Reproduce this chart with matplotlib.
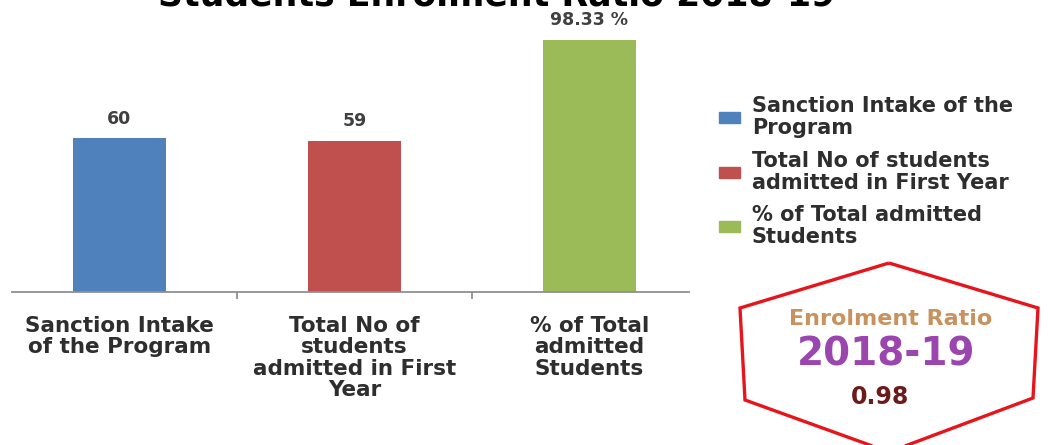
import numpy as np
import matplotlib.pyplot as plt
from matplotlib.patches import Patch, Polygon

# データ
categories = ["Sanction Intake\nof the Program",
              "Total No of\nstudents\nadmitted in First\nYear",
              "% of Total\nadmitted\nStudents"]
legend_labels = ["Sanction Intake of the\nProgram",
                 "Total No of students\nadmitted in First Year",
                 "% of Total admitted\nStudents"]
values = [60, 59, 98.33]
value_labels = ["60", "59", "98.33 %"]
colors = ["#4F81BD", "#C0504D", "#9BBB59"]
ratio_year = "2018-19"
ratio_value = "0.98"

W, H = 1054, 445
fig = plt.figure(figsize=(W / 100, H / 100), dpi=100)
ax = fig.add_axes([2 / W, (H - 292) / H, 705 / W, 292 / H])

x = np.arange(len(values))
bars = ax.bar(x, values, width=0.396, color=colors)
for b, lab in zip(bars, value_labels):
    ax.text(b.get_x() + b.get_width() / 2, b.get_height() + 4, lab,
            ha="center", va="bottom", fontsize=12.5, color="#404040",
            fontweight="bold")

ax.set_xlim(-0.5, 2.5)
ax.set_ylim(0, 113.8)
for s in ["top", "right", "left"]:
    ax.spines[s].set_visible(False)
ax.spines["bottom"].set_color("#909090")
ax.spines["bottom"].set_linewidth(1.3)
ax.spines["bottom"].set_bounds(-0.457, 2.423)
ax.set_yticks([])
ax.set_xticks(x)
ax.set_xticklabels(categories, fontsize=15.5, color="#2E2E2E",
                   linespacing=1.1, fontweight="bold")
ax.tick_params(axis="x", which="major", length=0, pad=17)
ax.set_xticks([0.5, 1.5], minor=True)
ax.tick_params(axis="x", which="minor", length=5, color="#909090", width=1.3)

# 凡例
handles = [Patch(color=c) for c in colors]
leg = fig.legend(handles, legend_labels, loc="upper left",
                 bbox_to_anchor=(709 / W, 1 - 86 / H), frameon=False,
                 prop={"size": 15, "weight": "bold"},
                 handlelength=1.0, handleheight=0.45,
                 handletextpad=0.55, labelspacing=0.62, borderpad=0,
                 labelcolor="#2E2E2E")
for t in leg.get_texts():
    t.set_linespacing(1.1)

# タイトル（上端で切れている）
fig.text(497 / W, 1 - 5 / H, "Students Enrolment Ratio 2018-19",
         ha="center", va="baseline", fontsize=25, fontweight="bold",
         color="black")

# 六角形
hexagon = [(889, 263), (1038, 308), (1033, 398), (889, 452), (745, 400), (740, 308)]
fig.patches.append(Polygon([(px / W, 1 - py / H) for px, py in hexagon],
                           closed=True, fill=False, edgecolor="#E8141B",
                           linewidth=2.4, transform=fig.transFigure))
fig.text(891 / W, 1 - 319 / H, "Enrolment Ratio", ha="center", va="center",
         fontsize=16, fontweight="bold", color="#C8915E")
fig.text(886 / W, 1 - 354 / H, ratio_year, ha="center", va="center",
         fontsize=28, fontweight="bold", color="#9B45AE")
fig.text(880 / W, 1 - 397 / H, ratio_value, ha="center", va="center",
         fontsize=17, fontweight="bold", color="#6B1B1B")

fig.savefig("out.png", dpi=100)
